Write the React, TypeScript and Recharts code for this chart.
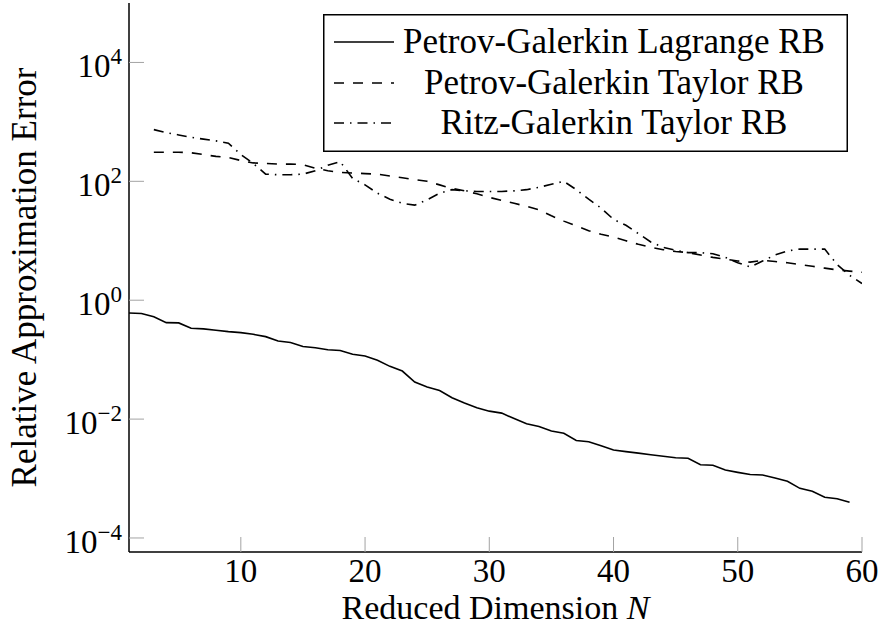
import { LineChart, Line, XAxis, YAxis, Legend } from 'recharts';

const FONT = '"Liberation Serif", "Times New Roman", serif';

// reduced dimension N
const dims = [
  1, 2, 3, 4, 5, 6, 7, 8, 9, 10, 11, 12, 13, 14, 15, 16, 17, 18, 19, 20,
  21, 22, 23, 24, 25, 26, 27, 28, 29, 30, 31, 32, 33, 34, 35, 36, 37, 38, 39, 40,
  41, 42, 43, 44, 45, 46, 47, 48, 49, 50, 51, 52, 53, 54, 55, 56, 57, 58, 59, 60,
];

// Petrov-Galerkin Lagrange RB, N = 1..59
const lagrange = [
  0.611, 0.596, 0.525, 0.42, 0.415, 0.337, 0.329, 0.312, 0.296, 0.285,
  0.267, 0.244, 0.206, 0.194, 0.166, 0.159, 0.147, 0.143, 0.123, 0.115,
  0.0973, 0.0771, 0.0643, 0.042, 0.0346, 0.0303, 0.0229, 0.0186, 0.0155, 0.0136,
  0.0126, 0.0102, 0.00832, 0.0075, 0.00631, 0.00579, 0.00437, 0.00417, 0.00355, 0.00302,
  0.00284, 0.00268, 0.00251, 0.00237, 0.00224, 0.00219, 0.00171, 0.00167, 0.00139, 0.00127,
  0.00117, 0.00115, 0.00102, 0.000897, 0.000684, 0.00061, 0.000483, 0.000457, 0.000398,
];

// Petrov-Galerkin Taylor RB, N = 3..60
const pgTaylor = [
  309, 309, 309, 302, 282, 263, 251, 224, 204, 200,
  195, 195, 191, 166, 151, 141, 138, 135, 132, 123,
  115, 107, 100, 87.1, 75.9, 69.2, 61.7, 53.7, 47.9, 42.7,
  38.0, 33.1, 26.3, 21.4, 17.8, 14.8, 12.9, 11.5, 10.0, 8.71,
  7.76, 7.08, 6.61, 6.31, 5.75, 5.25, 4.9, 4.57, 4.37, 4.68,
  4.47, 4.27, 3.98, 3.72, 3.47, 3.24, 3.09, 2.95,
];

// Ritz-Galerkin Taylor RB, N = 3..60
const ritzTaylor = [
  741, 661, 603, 550, 513, 479, 437, 282, 200, 132,
  129, 129, 132, 151, 186, 214, 112, 87.1, 63.1, 50.1,
  42.7, 39.8, 49.0, 63.1, 72.4, 69.2, 67.6, 67.6, 67.6, 69.2,
  72.4, 79.4, 89.1, 100, 72.4, 50.1, 35.5, 22.9, 18.2, 13.2,
  9.55, 7.76, 6.92, 6.31, 6.31, 6.03, 5.25, 4.27, 3.63, 4.57,
  5.75, 6.76, 7.24, 7.24, 7.24, 3.98, 2.63, 1.91,
];

const xTicks = [10, 20, 30, 40, 50, 60];
const yTicks = [1e-4, 1e-2, 1, 1e2, 1e4];

const series = [
  { key: 'lagrange', name: 'Petrov-Galerkin Lagrange RB', dash: undefined },
  { key: 'pgTaylor', name: 'Petrov-Galerkin Taylor RB', dash: '10 9' },
  { key: 'ritzTaylor', name: 'Ritz-Galerkin Taylor RB', dash: '10 6 1.5 6' },
];

const rows = dims.map((n, i) => ({
  n,
  lagrange: lagrange[i],
  pgTaylor: pgTaylor[i - 2],
  ritzTaylor: ritzTaylor[i - 2],
}));

const TICK_GREY = '#a3a3a3';

function XTick({ x, y, payload }: any) {
  return (
    <text x={x} y={y + 30} textAnchor="middle" fontFamily={FONT} fontSize={33} fill="#000">
      {payload.value}
    </text>
  );
}

function YTick({ x, y, payload }: any) {
  const exp = Math.round(Math.log10(payload.value));
  const sup = exp < 0 ? `\u2212${-exp}` : String(exp);
  return (
    <text x={x - 7} y={y + 15} textAnchor="end" fontFamily={FONT} fontSize={33} fill="#000">
      <tspan>10</tspan>
      <tspan dy={-13} fontSize={23}>{sup}</tspan>
    </text>
  );
}

function XLabel({ viewBox }: any) {
  const cx = viewBox.x + viewBox.width / 2;
  return (
    <text x={cx} y={619} textAnchor="middle" fontFamily={FONT} fontSize={34} fill="#000">
      Reduced Dimension <tspan fontStyle="italic">N</tspan>
    </text>
  );
}

function YLabel({ viewBox }: any) {
  const cy = viewBox.y + viewBox.height / 2;
  return (
    <text
      x={36}
      y={cy}
      transform={`rotate(-90, 36, ${cy})`}
      textAnchor="middle"
      fontFamily={FONT}
      fontSize={35}
      fill="#000"
    >
      Relative Approximation Error
    </text>
  );
}

function LegendBox() {
  const w = 525;
  const h = 138;
  const rowY = [28, 69, 109];
  return (
    <svg width={w} height={h} style={{ display: 'block' }}>
      <rect x={0.75} y={0.75} width={w - 1.5} height={h - 1.5} fill="#fff" stroke="#000" strokeWidth={1.5} />
      {series.map((s, i) => (
        <g key={s.key}>
          <line
            x1={11}
            x2={71}
            y1={rowY[i]}
            y2={rowY[i]}
            stroke="#000"
            strokeWidth={1.6}
            strokeDasharray={s.dash}
          />
          <text x={291} y={rowY[i] + 11} textAnchor="middle" fontFamily={FONT} fontSize={35} fill="#000">
            {s.name}
          </text>
        </g>
      ))}
    </svg>
  );
}

export default function App() {
  return (
    <div style={{ position: 'absolute', left: 0, top: 0, background: '#fff' }}>
      <LineChart
        width={883}
        height={628}
        data={rows}
        margin={{ top: 3, right: 21, bottom: 0, left: 9 }}
        style={{ fontFamily: FONT }}
      >
        <XAxis
          dataKey="n"
          type="number"
          domain={[1, 60]}
          ticks={xTicks}
          allowDataOverflow
          height={76}
          tickSize={-15}
          tickMargin={15}
          axisLine={{ stroke: '#000', strokeWidth: 1.5 }}
          tickLine={{ stroke: TICK_GREY, strokeWidth: 1 }}
          tick={<XTick />}
          label={<XLabel />}
        />
        <XAxis
          xAxisId="top"
          orientation="top"
          dataKey="n"
          type="number"
          domain={[1, 60]}
          ticks={xTicks}
          allowDataOverflow
          height={0}
          tickSize={-15}
          axisLine={{ stroke: '#000', strokeWidth: 1.5 }}
          tickLine={{ stroke: TICK_GREY, strokeWidth: 1 }}
          tick={false}
        />
        <YAxis
          type="number"
          scale="log"
          domain={[5.81e-5, 1e5]}
          ticks={yTicks}
          allowDataOverflow
          width={120}
          tickSize={-15}
          tickMargin={15}
          axisLine={{ stroke: '#000', strokeWidth: 1.5 }}
          tickLine={{ stroke: TICK_GREY, strokeWidth: 1 }}
          tick={<YTick />}
          label={<YLabel />}
        />
        <YAxis
          yAxisId="right"
          orientation="right"
          type="number"
          scale="log"
          domain={[5.81e-5, 1e5]}
          ticks={yTicks}
          allowDataOverflow
          width={0}
          tickSize={-15}
          axisLine={{ stroke: '#000', strokeWidth: 1.5 }}
          tickLine={{ stroke: TICK_GREY, strokeWidth: 1 }}
          tick={false}
        />
        {series.map((s) => (
          <Line
            key={s.key}
            dataKey={s.key}
            name={s.name}
            type="linear"
            stroke="#000"
            strokeWidth={1.6}
            strokeDasharray={s.dash}
            dot={false}
            activeDot={false}
            isAnimationActive={false}
          />
        ))}
        <Legend
          layout="vertical"
          verticalAlign="middle"
          align="center"
          width={525}
          height={138}
          wrapperStyle={{ left: 323, top: 14, width: 525, height: 138 }}
          content={<LegendBox />}
        />
      </LineChart>
    </div>
  );
}
